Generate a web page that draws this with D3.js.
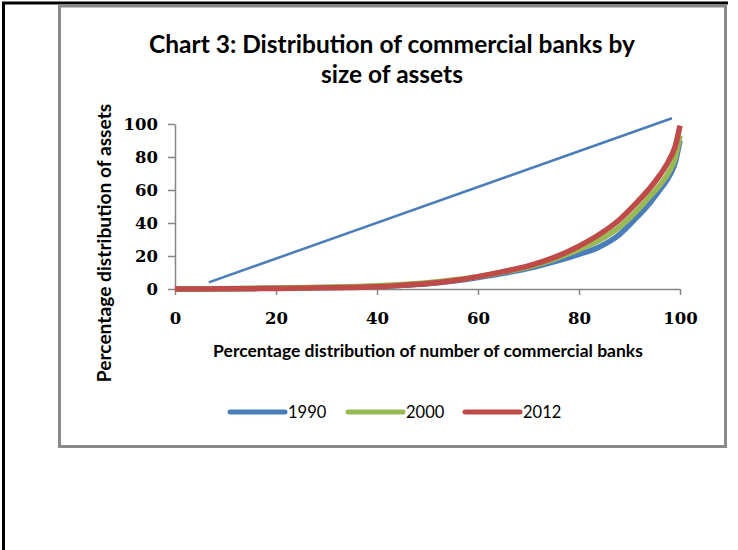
<!DOCTYPE html>
<html>
<head>
<meta charset="utf-8">
<script src="https://cdn.jsdelivr.net/npm/d3@7"></script>
<style>
  body { margin: 0; background: #fff; }
  .tick text { font-family: "DejaVu Serif", serif; font-weight: bold; font-size: 16.5px; fill: #000; }
  .axis path, .axis line { stroke: #868686; stroke-width: 1.5; }
</style>
</head>
<body>
<div id="chart"></div>
<script>
// percentage of banks (cumulative) and matching cumulative share of assets
const pctBanks   = [0, 10, 20, 30, 40, 45, 50, 55, 60, 65, 70, 75, 80, 84, 88, 91, 94, 96, 98, 99, 100];
const assets1990 = [0, 0.2, 0.5, 0.9, 1.6, 2.2, 3.2, 4.8, 7, 9.5, 12.5, 16.5, 21, 25.5, 33, 42, 52, 60, 69, 76, 90];
const assets2000 = [0, 0.2, 0.6, 1.1, 2.0, 2.8, 3.8, 5.4, 7.5, 10.3, 13.5, 18, 24, 29.5, 37.5, 46, 56, 63, 72, 79, 93];
const assets2012 = [0, 0.1, 0.3, 0.7, 1.4, 2.2, 3.3, 5.0, 7.5, 10.5, 14, 19, 26, 33, 42, 51, 61, 69, 79, 86, 99];
// the straight reference line as drawn in the original
const equalityX = [6.7, 98.4];
const equalityY = [4, 103.5];
const years = ["1990", "2000", "2012"];
const colors = ["#4A7EBB", "#98B954", "#BE4B48"];
const xTicks = [0, 20, 40, 60, 80, 100];
const yTicks = [0, 20, 40, 60, 80, 100];

const width = 738, height = 550;
const svg = d3.select("#chart").append("svg")
    .attr("width", width)
    .attr("height", height);

// outer frame
svg.append("line").attr("x1", 2).attr("x2", 728).attr("y1", 3).attr("y2", 3)
    .attr("stroke", "#000").attr("stroke-width", 3);
svg.append("line").attr("x1", 3.5).attr("x2", 3.5).attr("y1", 2).attr("y2", 550)
    .attr("stroke", "#000").attr("stroke-width", 3);

// chart area border
svg.append("rect")
    .attr("x", 59.5).attr("y", 6)
    .attr("width", 666).attr("height", 440.5)
    .attr("fill", "none")
    .attr("stroke", "#8a8a8a")
    .attr("stroke-width", 3);

// title
const title = svg.append("text")
    .attr("text-anchor", "middle")
    .style("font-family", "Lato, sans-serif")
    .style("font-weight", "bold")
    .style("font-size", "24.5px");
title.append("tspan").attr("x", 392).attr("y", 53).text("Chart 3: Distribution of commercial banks by");
title.append("tspan").attr("x", 392).attr("y", 83).text("size of assets");

const x = d3.scaleLinear().domain([0, 100]).range([175, 680]);
const y = d3.scaleLinear().domain([0, 100]).range([289, 124]);

svg.append("g")
    .attr("class", "axis")
    .attr("transform", `translate(0,${y(0)})`)
    .call(d3.axisBottom(x).tickValues(xTicks).tickSize(6).tickSizeOuter(0).tickPadding(13))
    .selectAll("text").attr("dy", "0.95em");

svg.append("g")
    .attr("class", "axis")
    .attr("transform", `translate(${x(0)},0)`)
    .call(d3.axisLeft(y).tickValues(yTicks).tickSize(7).tickSizeOuter(0).tickPadding(10));

// axis titles
svg.append("text")
    .attr("x", 428).attr("y", 357)
    .attr("text-anchor", "middle")
    .style("font-family", "Lato, sans-serif")
    .style("font-weight", "bold")
    .style("font-size", "17.5px")
    .text("Percentage distribution of number of commercial banks");

svg.append("text")
    .attr("transform", "translate(111,243) rotate(-90)")
    .attr("text-anchor", "middle")
    .style("font-family", "Lato, sans-serif")
    .style("font-weight", "bold")
    .style("font-size", "19.2px")
    .text("Percentage distribution of assets");

// reference line
svg.append("path")
    .datum(d3.zip(equalityX, equalityY))
    .attr("fill", "none")
    .attr("stroke", colors[0])
    .attr("stroke-width", 2.5)
    .attr("d", d3.line().x(d => x(d[0])).y(d => y(d[1])));

// distribution curves
const series = [assets1990, assets2000, assets2012];
const line = d3.line()
    .x(d => x(d[0]))
    .y(d => y(d[1]))
    .curve(d3.curveMonotoneX);

series.forEach((vals, i) => {
    svg.append("path")
        .datum(d3.zip(pctBanks, vals))
        .attr("fill", "none")
        .attr("stroke", colors[i])
        .attr("stroke-width", 5.5)
        .attr("stroke-linejoin", "round")
        .attr("d", line);
});

// legend
const legendX = [230, 348, 465];
const legend = svg.append("g");
years.forEach((yr, i) => {
    legend.append("line")
        .attr("x1", legendX[i]).attr("x2", legendX[i] + 55)
        .attr("y1", 412).attr("y2", 412)
        .attr("stroke", colors[i])
        .attr("stroke-width", 5)
        .attr("stroke-linecap", "round");
    legend.append("text")
        .attr("x", legendX[i] + 58).attr("y", 418)
        .style("font-family", "Lato, sans-serif")
        .style("font-size", "16.5px")
        .text(yr);
});
</script>
</body>
</html>
